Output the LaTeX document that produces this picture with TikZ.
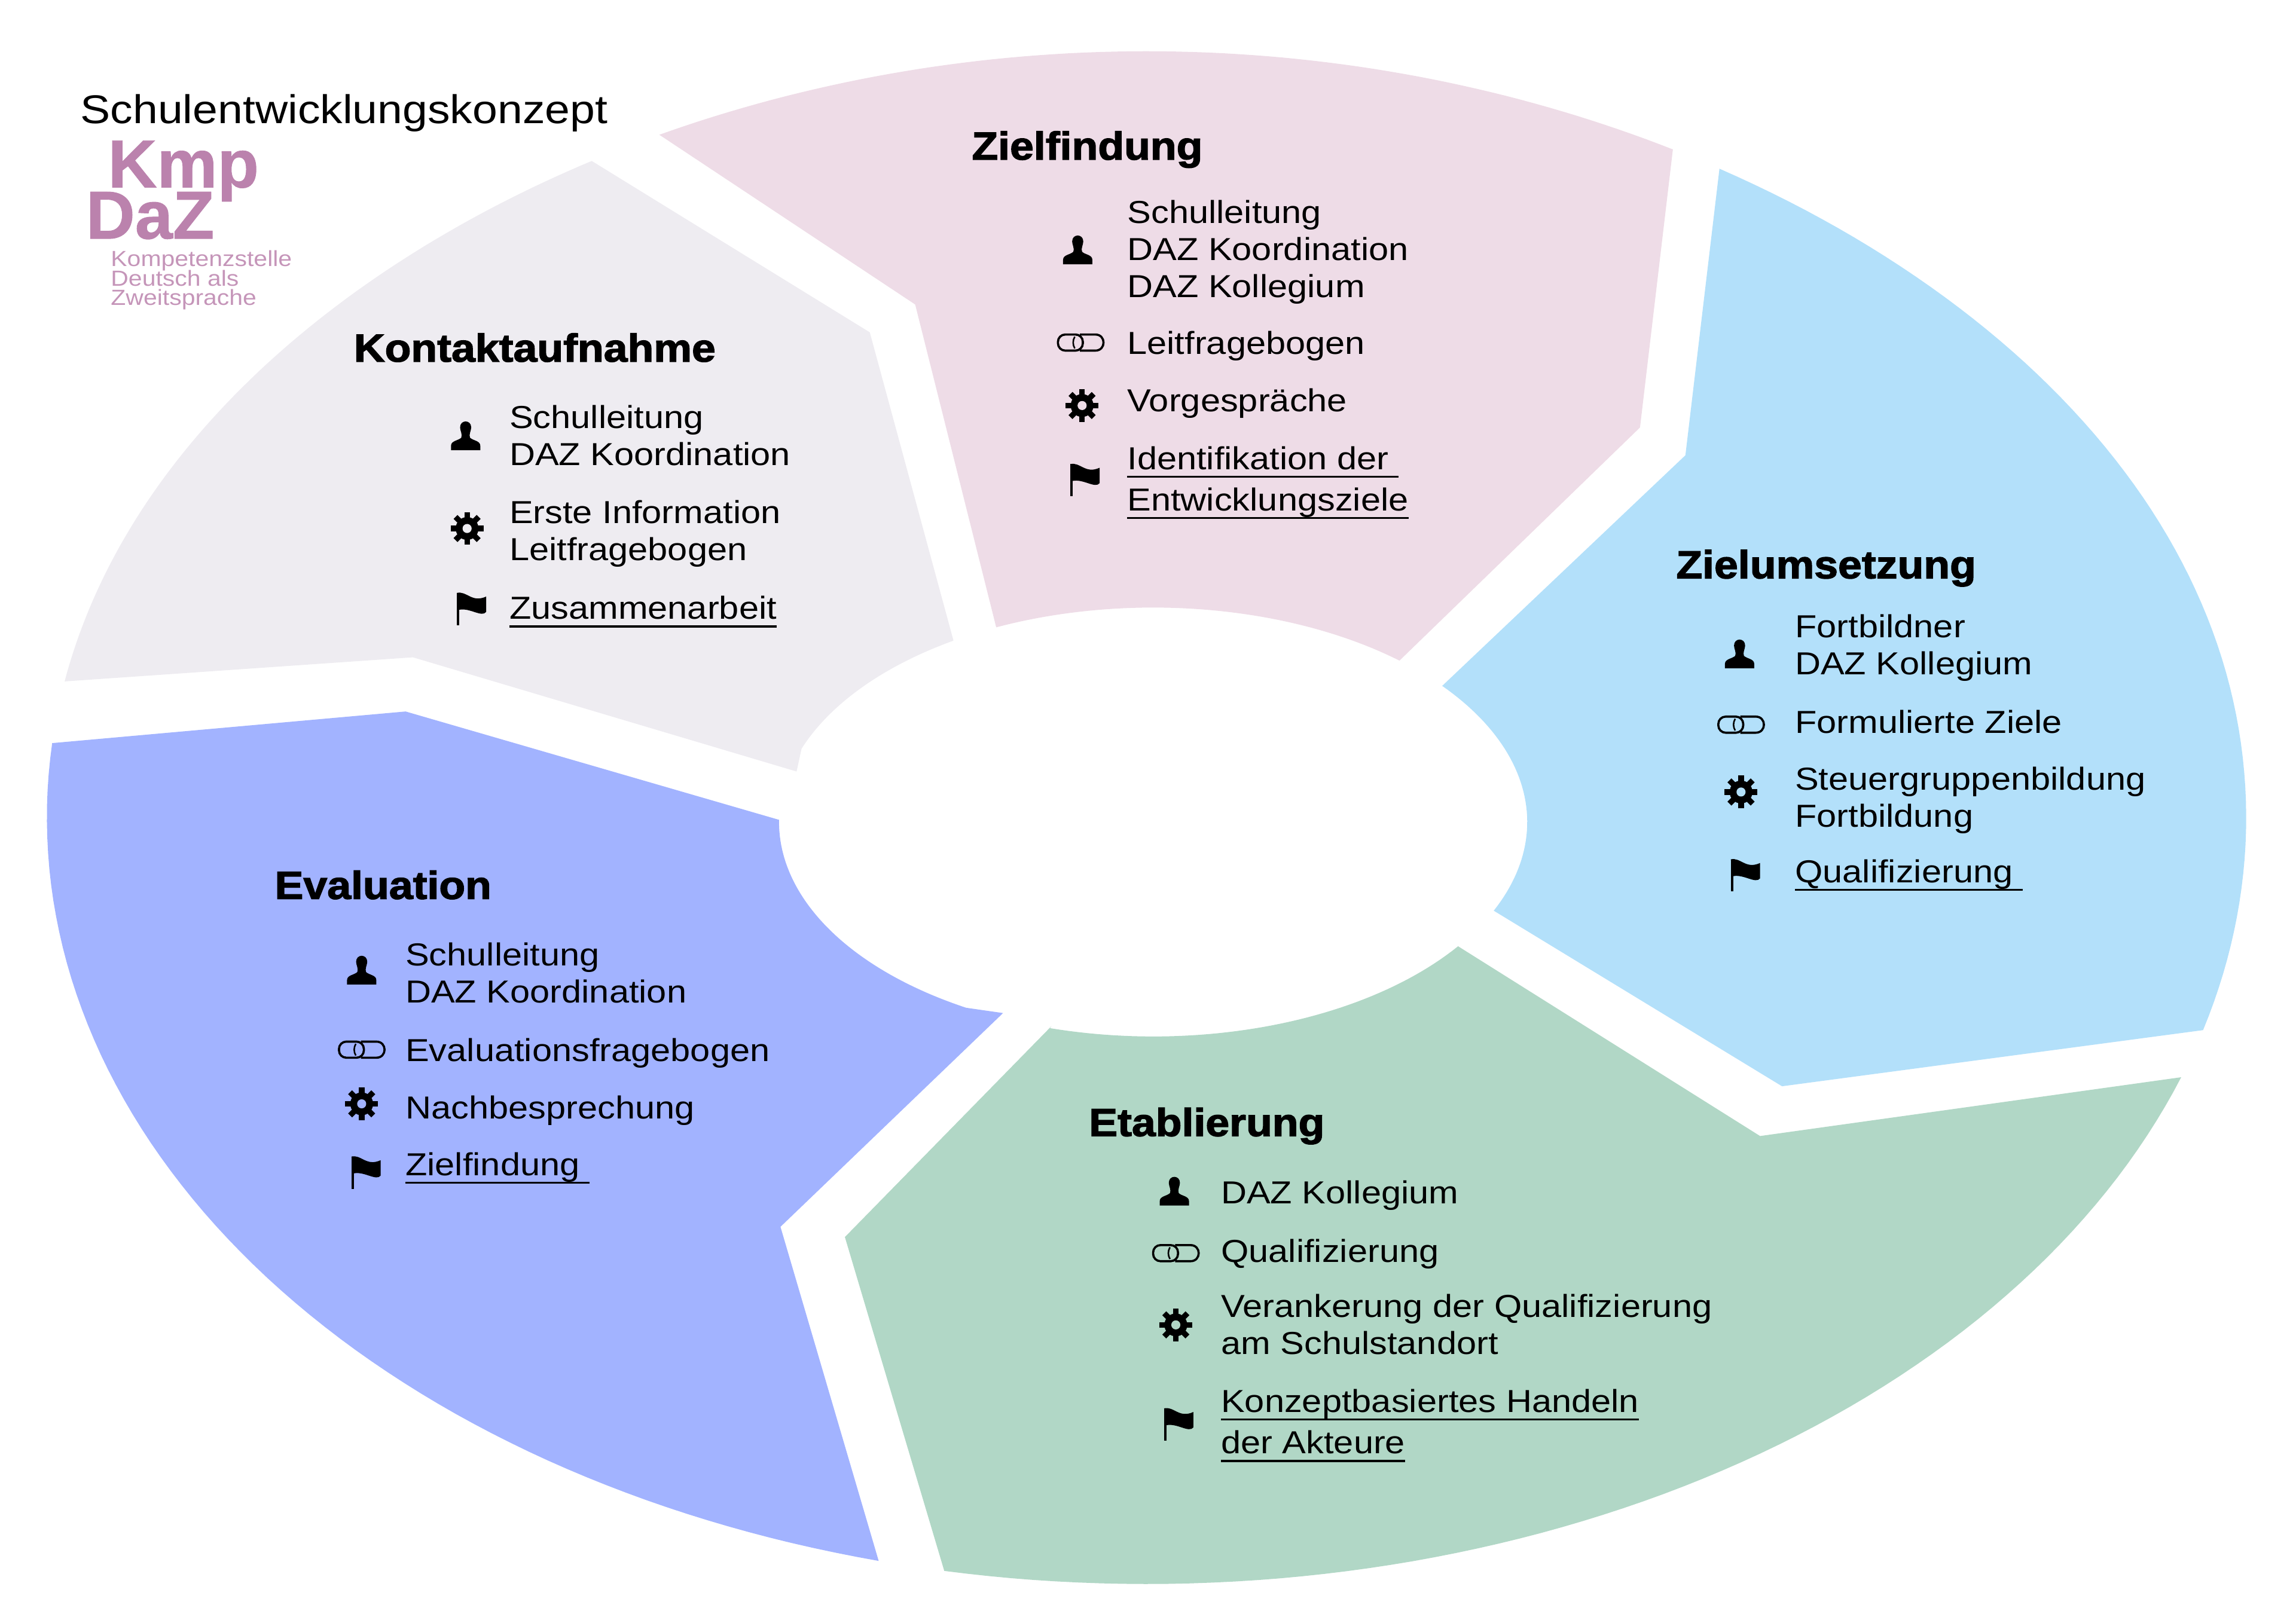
\documentclass[tikz,border=0pt]{standalone}
\usepackage{fontspec}
\setmainfont{Liberation Sans}[FakeStretch=1.12]
\newfontfamily\headfont{Liberation Sans}[FakeStretch=1.095,BoldFont=* Bold,BoldFeatures={FakeBold=2.2}]
\newfontfamily\logofont{Liberation Sans}[BoldFont=* Bold,BoldFeatures={FakeBold=0.8}]
\definecolor{secPink}{HTML}{EEDCE7}
\definecolor{secGrey}{HTML}{EEECF1}
\definecolor{secSky}{HTML}{B3E0FA}
\definecolor{secGreen}{HTML}{B1D7C6}
\definecolor{secBlue}{HTML}{A2B3FF}
\definecolor{logoPk}{HTML}{BB82AD}
\newcommand{\outerarc}[2]{plot[domain=#1:#2,samples=70] ({783+751*cos(\x)},{558.5+523.5*sin(\x)+4.5*sin(2*\x)^2*(sin(\x)<0)})}
\newcommand{\innerarc}[2]{-- plot[domain=#1:#2,samples=50] ({787.5+255.5*cos(\x)},{561.5+146.5*sin(\x)})}
\newcommand{\ulin}[1]{\underline{\smash{#1}}}
\begin{document}
\begin{tikzpicture}[x=0.1mm,y=-0.1mm,
   txt/.style={anchor=base west,inner sep=0pt,align=left,xshift=-0.08mm,font=\fontsize{6.18}{7.2}\selectfont},
   head/.style={anchor=base west,inner sep=0pt,font=\fontsize{7.6}{9}\selectfont\headfont\bfseries},
   logo/.style={anchor=base west,inner sep=0pt,text=logoPk,font=\fontsize{13.2}{14}\selectfont\logofont\bfseries},
   logosub/.style={anchor=base west,inner sep=0pt,text=logoPk!85,font=\fontsize{4.25}{3.85}\selectfont},
   pics/personicon/.style={code={
     \fill (-10,9.5) -- (-10,6.5) .. controls (-10,3) and (-5,3) .. (-3,1) .. controls (-2,-1) and (-3.8,-4) .. (-3.8,-6) .. controls (-3.8,-11.5) and (3.8,-11.5) .. (3.8,-6) .. controls (3.8,-4) and (2,-1) .. (3,1) .. controls (5,3) and (10,3) .. (10,6.5) -- (10,9.5) -- cycle;}},
   pics/chainicon/.style={code={
     \draw[line width=0.42pt,rounded corners=0.5mm] (-15.5,-5.5) rectangle (1.5,5.5);
     \draw[line width=0.42pt] (-0.5,-5.5) -- (10,-5.5) .. controls (17.5,-5.5) and (17.5,5.5) .. (10,5.5) -- (-0.5,5.5);
     \draw[line width=0.3pt] (-4,-4) .. controls (-5.5,-1.5) and (-5.5,1.5) .. (-4,4);}},
   pics/gearicon/.style={code={
     \fill circle (7.8);
     \foreach \a in {0,45,...,315} {\fill[rotate=\a] (-1.9,-11.2) rectangle (1.9,0);}
     \fill[#1] circle (3.1);}},
   pics/flagicon/.style={code={
     \fill (-10,-10) rectangle (-8.4,12);
     \fill (-10,-10) .. controls (-3,-11.5) and (0,-3) .. (10,-7.5) -- (10,3) .. controls (7,7) and (-1,0) .. (-8.4,1.5) -- cycle;}}]
\useasboundingbox (0,0) rectangle (1568,1108.6);
%% ---- ring of five sectors ----
\fill[secPink] \outerarc{-116.3}{-61.4} -- (1120,292) -- (956,451) \innerarc{-48.8}{-114.8} -- (625,208) -- cycle;
\fill[secSky] \outerarc{-58.6}{16.1} -- (1217,742) -- (1020,622) \innerarc{24.4}{-39.4} -- (1151,311) -- cycle;
\fill[secGreen] \outerarc{19.8}{100.6} -- (577,845) -- (718,701) \innerarc{106}{35.4} -- (1202,776) -- cycle;
\fill[secBlue] \outerarc{104.1}{185.6} -- (277,486) -- (532,560) \innerarc{180}{120} -- (685,692) -- (533,838) -- cycle;
\fill[secGrey] \outerarc{190.3}{239.7} -- (594,227) -- (651,437) \innerarc{237.7}{200} -- (544,527) -- (282,449) -- cycle;
%% ---- title and logo ----
\node[txt,font=\fontsize{7.8}{9}\selectfont] (title) at (55,84.5) {Schulentwicklungskonzept};
\node[logo] (kmp) at (73,128) {Kmp};
\node[logo] (daz) at (58,163) {DaZ};
\node[logosub] (komp) at (75,182) {Kompetenzstelle};
\node[logosub] (deutsch) at (75,195.5) {Deutsch als};
\node[logosub] (zweit) at (75,208.5) {Zweitsprache};
%% ---- Zielfindung ----
\node[head] (zfhead) at (663,109) {Zielfindung};
\pic at (736,171) {personicon};
\pic at (738,234) {chainicon};
\pic at (739,277) {gearicon=secPink};
\pic at (741,327) {flagicon};
\node[txt] (zfwho) at (770,203) {Schulleitung\\DAZ Koordination\\DAZ Kollegium};
\node[txt] (zfout) at (770,242) {Leitfragebogen};
\node[txt] (zfact) at (770,281) {Vorgespräche};
\node[txt] (zfgoal) at (770,349) {\ulin{Identifikation der\ }\\[0.85pt]\ulin{Entwicklungsziele}};
%% ---- Kontaktaufnahme ----
\node[head] (kahead) at (241,247) {Kontaktaufnahme};
\pic at (318,298) {personicon};
\pic at (319,361) {gearicon=secGrey};
\pic at (322,415) {flagicon};
\node[txt] (kawho) at (348,318) {Schulleitung\\DAZ Koordination};
\node[txt] (kaact) at (348,383) {Erste Information\\Leitfragebogen};
\node[txt] (kagoal) at (348,423) {\ulin{Zusammenarbeit}};
%% ---- Zielumsetzung ----
\node[head] (zuhead) at (1144,395) {Zielumsetzung};
\pic at (1188,447) {personicon};
\pic at (1189,495) {chainicon};
\pic at (1189,541) {gearicon=secSky};
\pic at (1192,597) {flagicon};
\node[txt] (zuwho) at (1226,461) {Fortbildner\\DAZ Kollegium};
\node[txt] (zuout) at (1226,501) {Formulierte Ziele};
\node[txt] (zuact) at (1226,565) {Steuergruppenbildung\\Fortbildung};
\node[txt] (zugoal) at (1226,603) {\ulin{Qualifizierung\ }};
%% ---- Etablierung ----
\node[head] (ethead) at (743,776) {Etablierung};
\pic at (802,814) {personicon};
\pic at (803,856) {chainicon};
\pic at (803,905) {gearicon=secGreen};
\pic at (805,972) {flagicon};
\node[txt] (etwho) at (834,822) {DAZ Kollegium};
\node[txt] (etout) at (834,862) {Qualifizierung};
\node[txt] (etact) at (834,925) {Verankerung der Qualifizierung\\am Schulstandort};
\node[txt] (etgoal) at (834,993) {\ulin{Konzeptbasiertes Handeln}\\[0.85pt]\ulin{der Akteure}};
%% ---- Evaluation ----
\node[head] (evhead) at (187,614) {Evaluation};
\pic at (247,663) {personicon};
\pic at (247,717) {chainicon};
\pic at (247,754) {gearicon=secBlue};
\pic at (250,800) {flagicon};
\node[txt] (evwho) at (277,685) {Schulleitung\\DAZ Koordination};
\node[txt] (evout) at (277,725) {Evaluationsfragebogen};
\node[txt] (evact) at (277,764) {Nachbesprechung};
\node[txt] (evgoal) at (277,803) {\ulin{Zielfindung\ }};
\end{tikzpicture}
\end{document}
